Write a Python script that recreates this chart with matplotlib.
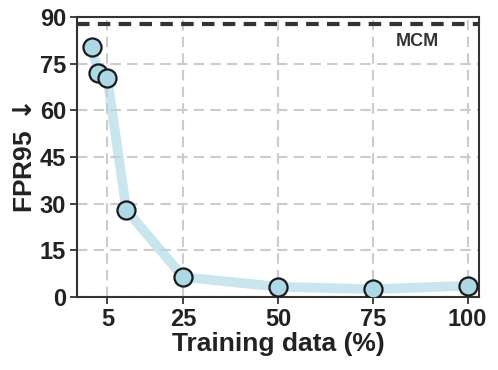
import numpy as np
import matplotlib.pyplot as plt

plt.rcParams['font.family'] = ['Liberation Sans', 'DejaVu Sans']
plt.rcParams['font.weight'] = 'bold'
plt.rcParams['mathtext.fontset'] = 'dejavusans'

# 训练数据比例与对应 FPR95
train_pct = [1, 2.5, 5, 10, 25, 50, 75, 100]
fpr95 = [80.5, 71.9, 70.3, 28.0, 6.4, 3.3, 2.5, 3.6]
mcm_value = 87.7

xticks = [5, 25, 50, 75, 100]
yticks = [0, 15, 30, 45, 60, 75, 90]

fig = plt.figure(figsize=(4.98, 3.70), dpi=100)
ax = fig.add_axes([77 / 498, 1 - 297 / 370, (479 - 77) / 498, (297 - 17) / 370])

ax.plot(train_pct, fpr95, color='#add8e6', alpha=0.65, linewidth=7,
        solid_capstyle='round', zorder=2)
ax.plot(train_pct, fpr95, linestyle='none', marker='o', markersize=13,
        markerfacecolor='#add8e6', markeredgecolor='#1a1a1a',
        markeredgewidth=1.6, zorder=3)

ax.axhline(mcm_value, color='#333333', linestyle=(0, (3, 2)), linewidth=3, zorder=4)
ax.text(417 / 498, 1 - 41 / 370, 'MCM', transform=fig.transFigure, fontsize=13,
        fontweight='bold', color='#333333', ha='center', va='center')

ax.set_xlim(-3, 103)
ax.set_ylim(0, 90)
ax.set_xticks(xticks)
ax.set_yticks(yticks)
ax.grid(True, linestyle='--', color='#cccccc', linewidth=1.5, dashes=(5, 3))
ax.set_axisbelow(True)

ax.set_xlabel('Training data (%)', fontsize=19, fontweight='bold', color='#222222', labelpad=1)
ax.set_ylabel(r'FPR95$\,\downarrow$', fontsize=19, fontweight='bold', color='#222222', labelpad=2)
ax.tick_params(axis='both', labelsize=17, colors='#222222', length=5, width=1.2, pad=3)
for lbl in ax.get_xticklabels() + ax.get_yticklabels():
    lbl.set_fontweight('bold')
for s in ax.spines.values():
    s.set_color('#333333')
    s.set_linewidth(1.5)

fig.savefig('out.png', dpi=100)
